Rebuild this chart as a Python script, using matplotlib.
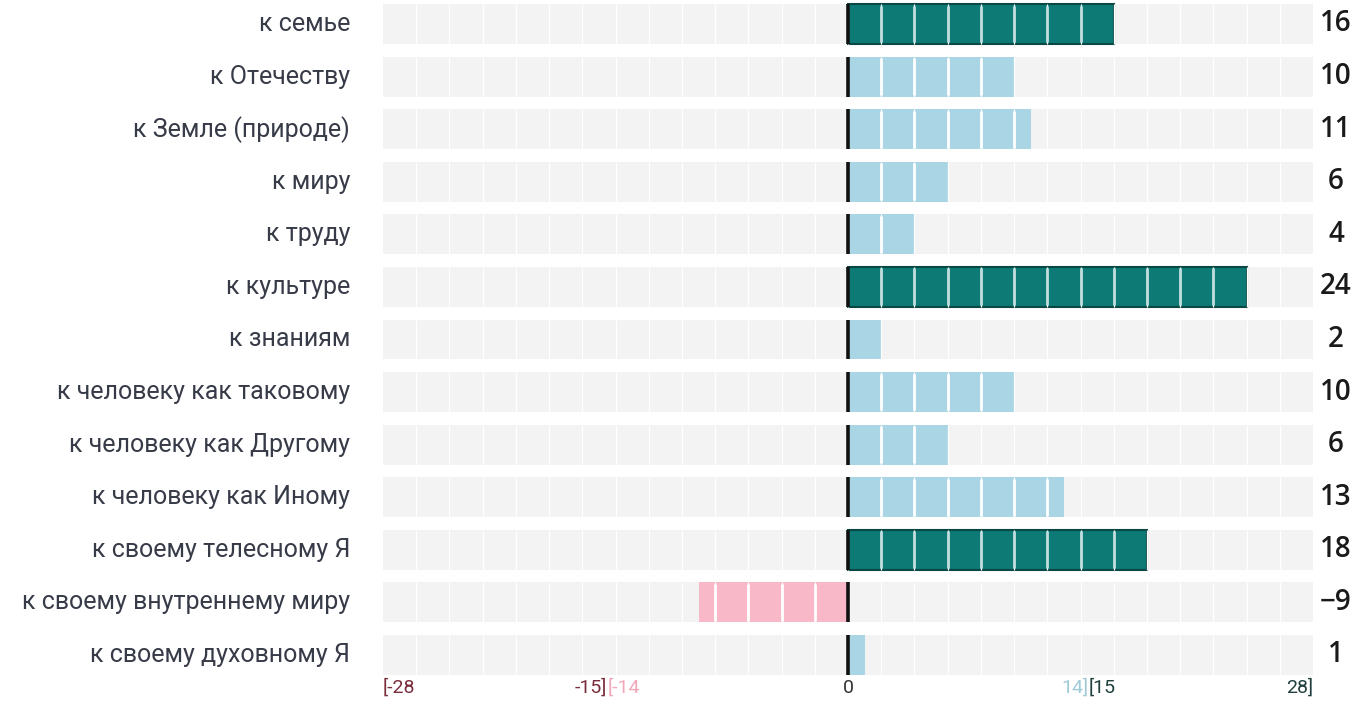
import matplotlib
matplotlib.use('Agg')
import matplotlib.pyplot as plt

labels = ['к семье', 'к Отечеству', 'к Земле (природе)', 'к миру', 'к труду',
          'к культуре', 'к знаниям', 'к человеку как таковому',
          'к человеку как Другому', 'к человеку как Иному',
          'к своему телесному Я', 'к своему внутреннему миру',
          'к своему духовному Я']
values = [16, 10, 11, 6, 4, 24, 2, 10, 6, 13, 18, -9, 1]

tick_texts = ['[-28', '-15]', '[-14', '0', '14]', '[15', '28]']
tick_pos = [-28, -14.5, -14.5, 0, 14.5, 14.5, 28]
tick_align = ['left', 'right', 'left', 'center', 'right', 'left', 'right']
tick_colors = ['#7a2e3c', '#7a2e3c', '#f2a7b8', '#333333', '#9fcad8', '#1f3f3d', '#1f3f3d']

LIM = 28
STEP = 2
H = 0.76


def bar_style(v):
    if v >= 15:
        return '#0d7a75', '#0a4845', '#bfdedd'
    if v > 0:
        return '#a9d5e4', 'none', 'white'
    if v > -15:
        return '#f9b8c7', 'none', 'white'
    return '#b5485d', '#6b1f2e', '#f0c8d0'


fig = plt.figure(figsize=(13.66, 7.01), dpi=100)
ax = fig.add_axes([383 / 1366, 0, 930 / 1366, 1])
ax.set_xlim(-LIM, LIM)
ax.set_ylim(12.875, -0.456)
ax.axis('off')

for i, (lab, v) in enumerate(zip(labels, values)):
    # фон строки
    ax.barh(i, 2 * LIM, left=-LIM, height=H, color='#f3f3f3', linewidth=0)
    ax.vlines(range(-LIM + STEP, LIM, STEP), i - H / 2, i + H / 2,
              color='white', lw=0.9)

    face, edge, sep = bar_style(v)
    ax.barh(i, v, left=0, height=H, color=face, edgecolor=edge,
            linewidth=1.5 if edge != 'none' else 0)
    lo, hi = sorted((0, v))
    inner = [k for k in range(-LIM, LIM + 1, STEP) if lo < k < hi]
    if inner:
        ax.vlines(inner, i - H / 2 + 0.03, i + H / 2 - 0.03, color=sep, lw=2)
    ax.vlines(0, i - H / 2, i + H / 2, color='#111111', lw=2.6)

    ax.annotate(lab, xy=(-LIM, i), xytext=(-33, 0), textcoords='offset pixels',
                ha='right', va='center', fontsize=18, family='Roboto',
                color='#373b48')
    ax.annotate(str(v).replace('-', '\u2212'), xy=(LIM, i), xytext=(23, 0),
                textcoords='offset pixels', ha='center', va='center',
                fontsize=20, family='Open Sans', weight='semibold',
                color='#1a1a1a')

for t, x, al, c in zip(tick_texts, tick_pos, tick_align, tick_colors):
    ax.annotate(t, xy=(x, len(labels) - 1), xytext=(0, -33),
                textcoords='offset pixels', ha=al, va='center',
                fontsize=14, family='Roboto', color=c)

fig.savefig('out.png', dpi=100)
